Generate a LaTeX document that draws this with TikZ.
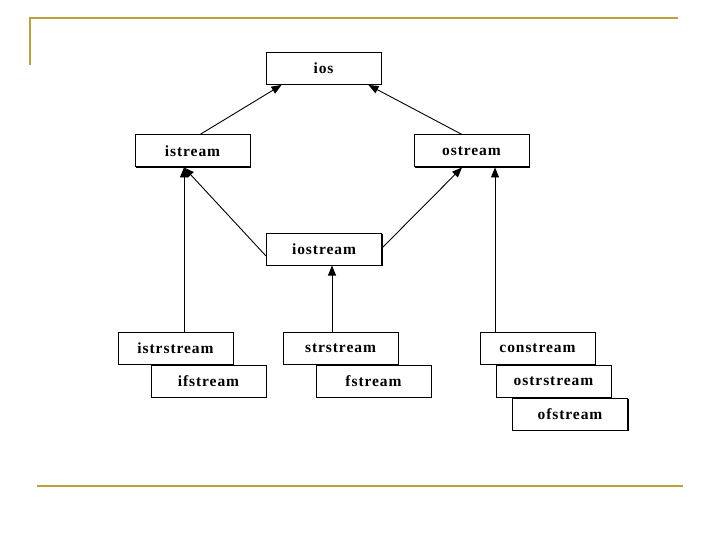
\documentclass[tikz,border=0pt]{standalone}
\usepackage{fontspec}
\setmainfont{Liberation Serif}[LetterSpace=6]
\usetikzlibrary{arrows.meta,shadows,calc}
\definecolor{gold}{RGB}{190,160,60}
\tikzset{
  cls/.style={draw=black, line width=1pt, fill=white, minimum width=115pt, minimum height=32pt,
    inner sep=0pt, text depth=0pt, font=\fontsize{15.5}{17}\selectfont\bfseries,
    drop shadow={shadow xshift=1pt, shadow yshift=-1pt, fill=black, opacity=1}},
  arr/.style={draw=black, line width=0.9pt, -{Triangle[length=10pt,width=8pt]}},
  rule/.style={draw=gold, line width=2pt}
}
\begin{document}
\begin{tikzpicture}[x=1pt,y=-1pt]
\useasboundingbox (0,0) rectangle (720,540);
\draw[rule] (30,65) -- (30,18) -- (678,18);
\draw[rule] (37,486) -- (683,486);

\node[cls] (ios) at (323.5,68.5) {ios};
\node[cls] (istream) at (192.5,151) {istream};
\node[cls] (ostream) at (471.5,151) {ostream};
\node[cls] (iostream) at (324,249) {iostream};
\node[cls] (istrstream) at (175.5,348) {istrstream};
\node[cls] (ifstream) at (208.5,381) {ifstream};
\node[cls] (strstream) at (340.5,348) {strstream};
\node[cls] (fstream) at (373.5,381) {fstream};
\node[cls] (constream) at (537.5,348) {constream};
\node[cls] (ostrstream) at (553.5,381) {ostrstream};
\node[cls] (ofstream) at (570,414) {ofstream};

\draw[arr] ([xshift=7.5pt]istream.north) -- ([xshift=16pt]ios.south west);
\draw[arr] ([xshift=-9.5pt]ostream.north) -- ([xshift=-13pt]ios.south east);
\draw[arr] ([yshift=-7pt]iostream.west) -- ([xshift=-8.5pt]istream.south);
\draw[arr] ([yshift=1pt]iostream.east) -- ([xshift=-9.5pt]ostream.south);
\draw[arr] ([xshift=8.5pt]istrstream.north) -- ([xshift=8.5pt]istrstream.north |- istream.south);
\draw[arr] ([xshift=-8.5pt]strstream.north) -- ([xshift=-8.5pt]strstream.north |- iostream.south);
\draw[arr] ([xshift=-42.5pt]constream.north) -- ([xshift=-42.5pt]constream.north |- ostream.south);
\end{tikzpicture}
\end{document}
